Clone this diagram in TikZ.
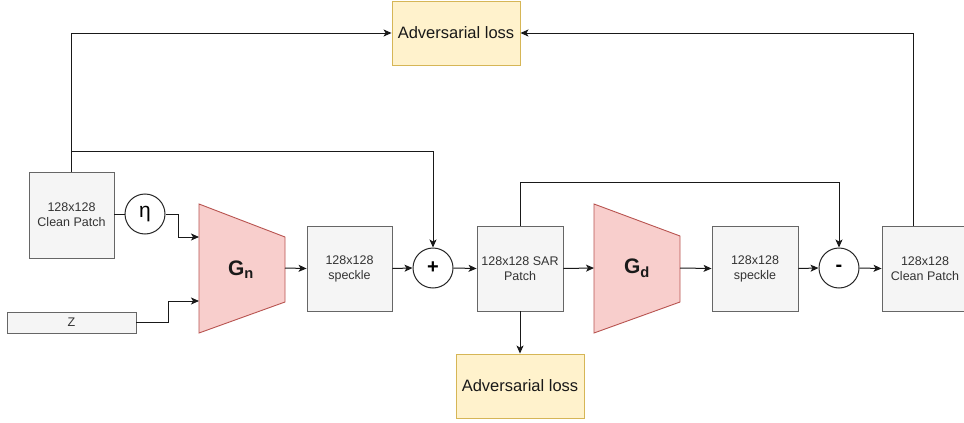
\documentclass[tikz,border=0pt]{standalone}
\usepackage{fontspec}
\setmainfont{Liberation Sans}
\usetikzlibrary{arrows.meta,calc}
\definecolor{boxfill}{HTML}{F5F5F5}
\definecolor{boxline}{HTML}{666666}
\definecolor{boxtext}{HTML}{333333}
\definecolor{lossfill}{HTML}{FFF2CC}
\definecolor{lossline}{HTML}{D6B656}
\definecolor{genfill}{HTML}{F8CECC}
\definecolor{genline}{HTML}{B85450}
\begin{document}
\begin{tikzpicture}[x=1pt,y=-1pt,
  patch/.style={draw=boxline,fill=boxfill,line width=0.9pt,inner sep=0pt,
    text=boxtext,font=\fontsize{12.5}{15}\selectfont,align=center},
  loss/.style={draw=lossline,fill=lossfill,line width=0.9pt,inner sep=0pt,
    minimum width=128,minimum height=64,text=black!90,
    font=\fontsize{16.5}{20}\selectfont},
  op/.style={draw=black!85,fill=white,circle,line width=1pt,minimum size=40,inner sep=0pt},
  gen/.style={draw=genline,fill=genfill,line width=0.9pt},
  wire/.style={draw=black!90,line width=1pt},
  arr/.style={wire,-{Stealth[length=8pt,width=7pt,inset=2pt]}}]
\useasboundingbox (0,0) rectangle (964,423);
\fill[white] (0,0) rectangle (964,423);

% loss boxes
\node[loss] (advT) at (456,33) {Adversarial loss};
\node[loss] (advB) at (520,386) {Adversarial loss};

% input side
\node[patch,minimum width=85,minimum height=86] (cleanL) at (71.5,215) {128x128\\Clean Patch};
\node[patch,minimum width=129,minimum height=21] (zbox) at (71.5,322.5) {Z};
\node[op,font=\fontsize{21}{24}\selectfont] (eta) at (145,214) {η};

% noise generator
\path[gen] (199,204) -- (285,237) -- (285,302) -- (199,333) -- cycle;
\coordinate (gnA) at (199,237);
\coordinate (gnB) at (199,301);
\coordinate (gnOut) at (285,268);
\node[font=\bfseries\fontsize{21}{24}\selectfont,text=black!90] (gnLab) at (241,270) {G\textsubscript{n}};

\node[patch,minimum width=85,minimum height=85] (speck1) at (349.5,268.5) {128x128\\speckle};
\node[op,font=\bfseries\fontsize{20}{24}\selectfont] (plus) at (433,268) {+};
\node[patch,minimum width=86,minimum height=85] (sar) at (520,268.5) {128x128 SAR\\Patch};

% denoising generator
\path[gen] (594,204) -- (680,236) -- (680,302) -- (594,333) -- cycle;
\coordinate (gdIn) at (594,268);
\coordinate (gdOut) at (680,268);
\node[font=\bfseries\fontsize{21}{24}\selectfont,text=black!90] (gdLab) at (637,268) {G\textsubscript{d}};

\node[patch,minimum width=86,minimum height=85] (speck2) at (755,268.5) {128x128\\speckle};
\node[op,font=\bfseries\fontsize{20}{24}\selectfont] (minus) at (839,268) {-};
\node[patch,minimum width=86,minimum height=85] (cleanR) at (925,268.5) {128x128\\Clean Patch};

% connectors
\draw[arr] (cleanL.north) |- (advT.west);
\coordinate (br) at (cleanL.north |- 0,151);
\draw[arr] (br) -| (plus.north);
\draw[wire] (cleanL.east |- eta.west) -- (eta.west);
\draw[arr] (eta.east) -- ++(13,0) |- (gnA);
\draw[arr] (zbox.east) -- ++(32,0) |- (gnB);
\draw[arr] (gnOut) -- (speck1.west);
\draw[arr] (speck1.east) -- (plus.west);
\draw[arr] (plus.east) -- (sar.west);
\draw[arr] (sar.east) -- (gdIn);
\draw[arr] (gdOut) -- (speck2.west);
\draw[arr] (speck2.east) -- (minus.west);
\draw[arr] (minus.east) -- (cleanR.west);
\draw[arr] (sar.north) -- ++(0,-43) -| (minus.north);
\coordinate (cr) at ($(cleanR.north west)+(32,0)$);
\draw[arr] (cr) |- (advT.east);
\draw[arr] (sar.south) -- (advB.north);
\end{tikzpicture}
\end{document}
